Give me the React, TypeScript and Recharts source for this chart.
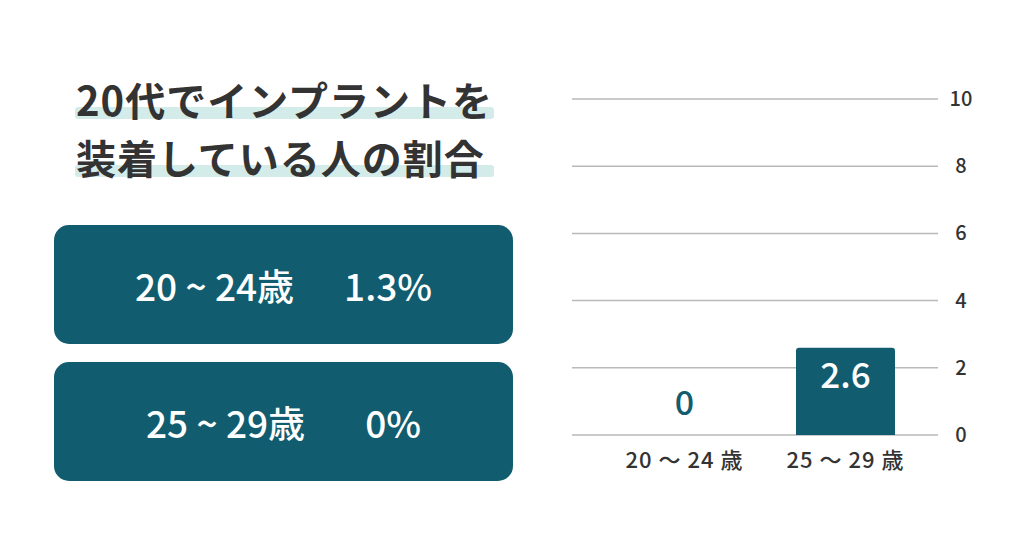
import React from "react";
import { ComposedChart, Bar, Line, XAxis, YAxis, CartesianGrid, LabelList } from "recharts";

const categories = ["20 ～ 24 歳", "25 ～ 29 歳"];
const values = [0, 2.6];
const yTicks = [0, 2, 4, 6, 8, 10];
const titleLines = ["20代でインプラントを", "装着している人の割合"];
const boxLabels = ["20 ~ 24歳", "25 ~ 29歳"];
const boxValues = ["1.3%", "0%"];

const data = categories.map((name, i) => ({ name, value: values[i] }));

const TEAL = "#115d6f";
const FONT = "'Noto Sans CJK JP', 'Noto Sans', sans-serif";

const ValueLabel = (props: any) => {
  const { x, y, value } = props;
  if (value === 0) {
    return (
      <text x={x} y={y - 20} textAnchor="middle" fill={TEAL} fontSize={34} fontWeight={500} fontFamily={FONT}>
        {value}
      </text>
    );
  }
  return (
    <text x={x} y={y + 40} textAnchor="middle" fill="#ffffff" fontSize={35} fontWeight={500} fontFamily={FONT}>
      {value}
    </text>
  );
};

const XTick = (props: any) => {
  const { x, y, payload } = props;
  return (
    <text x={x} y={y + 25} textAnchor="middle" fill="#333" fontSize={22} fontWeight={500} fontFamily={FONT} letterSpacing={1}>
      {payload.value}
    </text>
  );
};

const YTick = (props: any) => {
  const { x, y, payload } = props;
  return (
    <text x={x + 15} y={y + 7} textAnchor="middle" fill="#333" fontSize={20} fontWeight={500} fontFamily={FONT}>
      {payload.value}
    </text>
  );
};

export default function App() {
  return (
    <div style={{ position: "absolute", left: 0, top: 0, width: 1024, height: 538, background: "#fff", fontFamily: FONT, overflow: "hidden" }}>
      {titleLines.map((line, i) => (
        <div key={i} style={{ position: "absolute", left: 75, top: 74 + i * 58, width: 420 }}>
          <div style={{ position: "absolute", left: 0, top: 33, width: 419, height: 12, background: "#d3ecea", borderRadius: 3 }} />
          <div style={{ position: "relative", fontSize: 40, fontWeight: 700, color: "#333", lineHeight: "50px", letterSpacing: 1, paddingLeft: 1, whiteSpace: "nowrap" }}>
            {line}
          </div>
        </div>
      ))}
      {boxLabels.map((lab, i) => (
        <div
          key={i}
          style={{
            position: "absolute",
            left: 54,
            top: 225 + i * 137,
            width: 459,
            height: 119,
            borderRadius: 15,
            background: TEAL,
            color: "#fff",
            display: "flex",
            alignItems: "center",
            justifyContent: "center",
            fontSize: 37,
            fontWeight: 500,
            whiteSpace: "nowrap",
          }}
        >
          <span>{lab}</span>
          <span style={{ marginLeft: i === 0 ? 50 : 60 }}>{boxValues[i]}</span>
        </div>
      ))}
      <div style={{ position: "absolute", left: 0, top: 0 }}>
        <ComposedChart width={1024} height={538} data={data} margin={{ top: 99, right: 46, left: 572, bottom: 73 }}>
          <CartesianGrid vertical={false} stroke="#b9b9b9" strokeWidth={1.5} />
          <XAxis dataKey="name" axisLine={false} tickLine={false} height={30} padding={{ left: 32, right: 12 }} tick={<XTick />} interval={0} />
          <YAxis orientation="right" domain={[0, 10]} ticks={yTicks} axisLine={false} tickLine={false} width={40} tick={<YTick />} interval={0} />
          <Bar dataKey="value" fill={TEAL} barSize={99} radius={[3, 3, 0, 0]} isAnimationActive={false} />
          <Line dataKey="value" stroke="none" dot={false} activeDot={false} isAnimationActive={false}>
            <LabelList dataKey="value" content={<ValueLabel />} />
          </Line>
        </ComposedChart>
      </div>
    </div>
  );
}
